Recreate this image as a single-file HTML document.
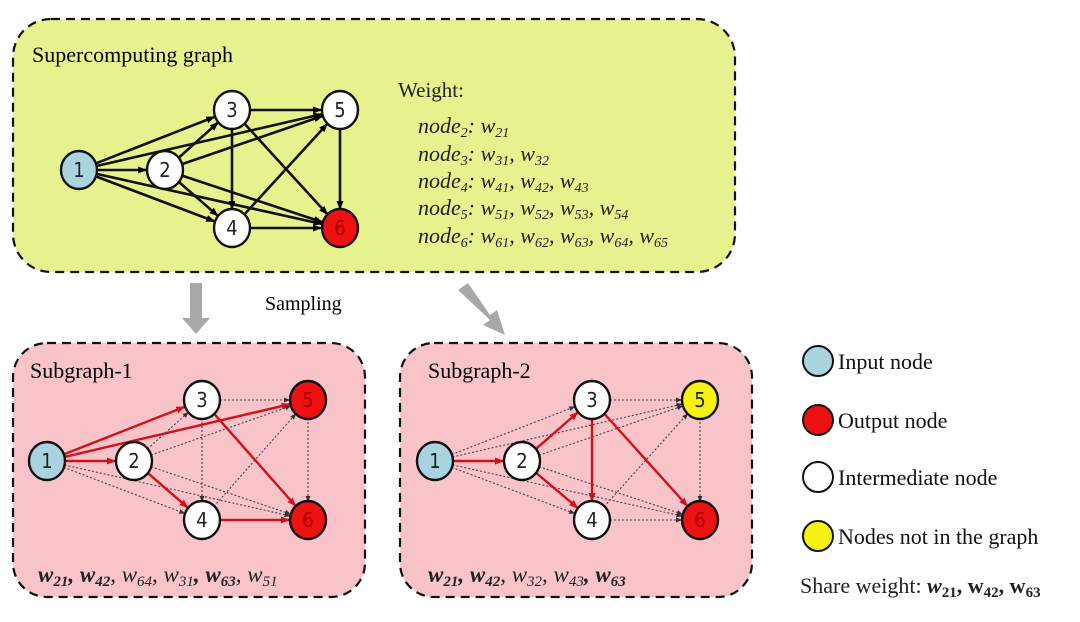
<!DOCTYPE html>
<html><head><meta charset="utf-8"><style>
body{margin:0;background:#fff;}
svg text{font-family:"Liberation Serif",serif;}
</style></head><body>
<svg id="s" width="1080" height="617" xmlns="http://www.w3.org/2000/svg">
<defs>
<marker id="ab" markerWidth="9" markerHeight="9" refX="8" refY="4.5" orient="auto" markerUnits="userSpaceOnUse"><path d="M0,1 L9,4.5 L0,8z" fill="#000"/></marker>
<marker id="ar" markerWidth="9" markerHeight="9" refX="8" refY="4.5" orient="auto" markerUnits="userSpaceOnUse"><path d="M0,1 L9,4.5 L0,8z" fill="#d0101a"/></marker>
<marker id="ad" markerWidth="6" markerHeight="6" refX="5" refY="3" orient="auto" markerUnits="userSpaceOnUse"><path d="M0,0.5 L6,3 L0,5.5z" fill="#333"/></marker>
</defs>
<rect x="13" y="19" width="722" height="253" rx="38" fill="#e6f28d" stroke="#111" stroke-width="2.2" stroke-dasharray="9,6"/>
<rect x="13" y="343" width="352" height="254" rx="34" fill="#f8c3c9" stroke="#111" stroke-width="2.2" stroke-dasharray="9,6"/>
<rect x="400" y="343" width="352" height="254" rx="34" fill="#f8c3c9" stroke="#111" stroke-width="2.2" stroke-dasharray="9,6"/>
<text x="32" y="62" font-size="22">Supercomputing graph</text>
<text x="30" y="378" font-size="22">Subgraph-1</text>
<text x="428" y="378" font-size="22">Subgraph-2</text>
<text x="265" y="310" font-size="20">Sampling</text>
<polygon points="190,283 202,283 202,318 210,318 196,334 182,318 190,318" fill="#a8a8a8"/>
<polygon points="458,290 468,283 490,315 497,310 505,335 483,325 490,320" fill="#a8a8a8"/>
<g font-family="Liberation Serif,serif" font-style="italic" font-size="22" fill="#222">
<text x="398" y="97" font-style="normal" font-size="21">Weight:</text>
<text x="418" y="133">node<tspan font-size="14" dy="4">2</tspan><tspan dy="-4">: w</tspan><tspan font-size="14" dy="4">21</tspan></text>
<text x="418" y="161">node<tspan font-size="14" dy="4">3</tspan><tspan dy="-4">: w</tspan><tspan font-size="14" dy="4">31</tspan><tspan dy="-4">, w</tspan><tspan font-size="14" dy="4">32</tspan></text>
<text x="418" y="188">node<tspan font-size="14" dy="4">4</tspan><tspan dy="-4">: w</tspan><tspan font-size="14" dy="4">41</tspan><tspan dy="-4">, w</tspan><tspan font-size="14" dy="4">42</tspan><tspan dy="-4">, w</tspan><tspan font-size="14" dy="4">43</tspan></text>
<text x="418" y="215">node<tspan font-size="14" dy="4">5</tspan><tspan dy="-4">: w</tspan><tspan font-size="14" dy="4">51</tspan><tspan dy="-4">, w</tspan><tspan font-size="14" dy="4">52</tspan><tspan dy="-4">, w</tspan><tspan font-size="14" dy="4">53</tspan><tspan dy="-4">, w</tspan><tspan font-size="14" dy="4">54</tspan></text>
<text x="418" y="243">node<tspan font-size="14" dy="4">6</tspan><tspan dy="-4">: w</tspan><tspan font-size="14" dy="4">61</tspan><tspan dy="-4">, w</tspan><tspan font-size="14" dy="4">62</tspan><tspan dy="-4">, w</tspan><tspan font-size="14" dy="4">63</tspan><tspan dy="-4">, w</tspan><tspan font-size="14" dy="4">64</tspan><tspan dy="-4">, w</tspan><tspan font-size="14" dy="4">65</tspan></text>
<text x="38" y="582" font-size="23"><tspan font-weight="bold">w</tspan><tspan font-size="15" dy="4" font-weight="bold">21</tspan><tspan dy="-4" font-weight="bold">, w</tspan><tspan font-size="15" dy="4" font-weight="bold">42</tspan><tspan dy="-4">, w</tspan><tspan font-size="15" dy="4">64</tspan><tspan dy="-4">, w</tspan><tspan font-size="15" dy="4">31</tspan><tspan dy="-4" font-weight="bold">, w</tspan><tspan font-size="15" dy="4" font-weight="bold">63</tspan><tspan dy="-4">, w</tspan><tspan font-size="15" dy="4">51</tspan></text>
<text x="428" y="582" font-size="23"><tspan font-weight="bold">w</tspan><tspan font-size="15" dy="4" font-weight="bold">21</tspan><tspan dy="-4" font-weight="bold">, w</tspan><tspan font-size="15" dy="4" font-weight="bold">42</tspan><tspan dy="-4">, w</tspan><tspan font-size="15" dy="4">32</tspan><tspan dy="-4">, w</tspan><tspan font-size="15" dy="4">43</tspan><tspan dy="-4" font-weight="bold">, w</tspan><tspan font-size="15" dy="4" font-weight="bold">63</tspan></text>
<text x="800" y="593" font-style="normal" font-size="22">Share weight:  <tspan font-style="italic" font-weight="bold">w</tspan><tspan font-size="15" dy="4" font-weight="bold">21</tspan><tspan dy="-4" font-weight="bold">, w</tspan><tspan font-size="15" dy="4" font-weight="bold">42</tspan><tspan dy="-4" font-weight="bold">, w</tspan><tspan font-size="15" dy="4" font-weight="bold">63</tspan></text>
</g>
<g font-size="22" fill="#111">
<circle cx="818" cy="361" r="15" fill="#a9d3df" stroke="#111" stroke-width="2"/><text x="838" y="369">Input node</text>
<circle cx="818" cy="420" r="15" fill="#ee1111" stroke="#111" stroke-width="2"/><text x="838" y="428">Output node</text>
<circle cx="818" cy="477" r="15" fill="#fff" stroke="#111" stroke-width="2"/><text x="838" y="485">Intermediate  node</text>
<circle cx="818" cy="536" r="15" fill="#f7f212" stroke="#111" stroke-width="2"/><text x="838" y="544">Nodes not in the graph</text>
</g>
<g id="g"></g>
</svg>
<script>
var NS="http://www.w3.org/2000/svg",G=document.getElementById("g");
function el(t,a){var e=document.createElementNS(NS,t);for(var k in a)e.setAttribute(k,a[k]);G.appendChild(e);return e;}
var E=[[1,2],[1,3],[1,4],[1,5],[1,6],[2,3],[2,4],[2,5],[2,6],[3,4],[3,5],[3,6],[4,5],[4,6],[5,6]];
function graph(P,red,fills,mode){
 E.forEach(function(e){var a=P[e[0]],b=P[e[1]],dx=b[0]-a[0],dy=b[1]-a[1],L=Math.sqrt(dx*dx+dy*dy),ux=dx/L,uy=dy/L,r=18;
  var isR=red&&red.indexOf(""+e[0]+e[1])>=0;
  var at={x1:a[0]+ux*r,y1:a[1]+uy*r,x2:b[0]-ux*(r+1),y2:b[1]-uy*(r+1)};
  if(mode==0){at.stroke="#111";at["stroke-width"]=2.6;at["marker-end"]="url(#ab)";}
  else if(isR){at.stroke="#d0101a";at["stroke-width"]=2.4;at["marker-end"]="url(#ar)";}
  else{at.stroke="#444";at["stroke-width"]=1.1;at["stroke-dasharray"]="2,2";at["marker-end"]="url(#ad)";}
  el("line",at);});
 for(var i=1;i<=6;i++){var p=P[i];el("ellipse",{cx:p[0],cy:p[1],rx:18,ry:19,fill:fills[i],stroke:"#111","stroke-width":2.4});
  var t=el("text",{x:p[0],y:p[1]+7,"text-anchor":"middle","font-size":20,fill:fills[i]=="#ee1111"?"#a00":"#222",style:"font-family:'DejaVu Sans Condensed','DejaVu Sans',sans-serif"});t.textContent=i;}
}
function pos(x1,x2,x3,x5,yt,ym,yb){return [0,[x1,ym],[x2,ym],[x3,yt],[x3,yb],[x5,yt],[x5,yb]];}
var W="#fff",B="#a9d3df",R="#ee1111",Y="#f7f212";
graph(pos(79,165,232,340,110,170,228),null,[0,B,W,W,W,W,R],0);
graph(pos(47,134,202,308,400,461,520),["13","15","12","24","36","46"],[0,B,W,W,W,R,R],1);
graph(pos(435,522,592,700,400,461,520),["12","23","24","34","36"],[0,B,W,W,W,Y,R],1);
</script>
</body></html>
